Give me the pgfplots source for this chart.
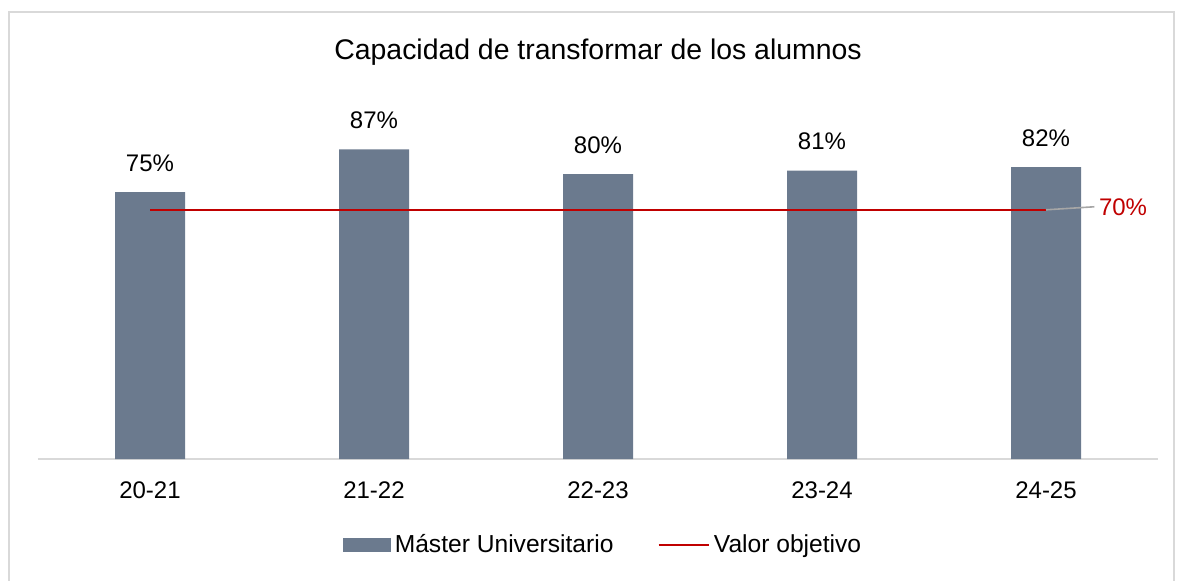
\documentclass[border=0pt]{standalone}
\usepackage{pgfplots}
\pgfplotsset{compat=1.18}
\usepackage{fontspec}
\setmainfont{Liberation Sans}
\definecolor{barcol}{HTML}{6B7A8E}
\definecolor{goalred}{HTML}{C00000}
\definecolor{framegray}{HTML}{D9D9D9}
\begin{document}
\begin{tikzpicture}
% 1 px of the reference = 0.5pt
\useasboundingbox (0,0) rectangle (591.5pt,290pt);
\draw[framegray, line width=0.8pt] (4.5pt,-10pt) rectangle (587pt,284pt);
\node[font=\fontsize{14.2}{17}\selectfont] at (299pt,264pt) {Capacidad de transformar de los alumnos};
\begin{axis}[
    at={(19pt,60.5pt)}, anchor=south west,
    scale only axis,
    width=560pt, height=178pt,
    xmin=-0.5, xmax=4.5, ymin=0, ymax=100,
    axis x line*=bottom, axis y line=none,
    x axis line style={draw=framegray, line width=0.9pt, -},
    xtick=data,
    xticklabels={20-21,21-22,22-23,23-24,24-25},
    major tick length=0pt,
    xticklabel style={anchor=center, yshift=-15.5pt, font=\fontsize{12}{14}\selectfont},
    /pgf/number format/assume math mode=true,
    legend style={at={(0.5,0)}, anchor=center, yshift=-43pt, xshift=3pt, draw=none,
        font=\fontsize{12.3}{14}\selectfont, legend columns=2,
        /tikz/every even column/.append style={column sep=20pt}},
    legend cell align=left,
    clip=false,
]
\addplot[ybar, bar width=35pt, fill=barcol, draw=none,
    nodes near coords={\pgfmathprintnumber{\pgfplotspointmeta}\%},
    every node near coord/.append style={anchor=center, yshift=14.5pt, black, font=\fontsize{12}{14}\selectfont},
    area legend,
    legend image code/.code={\fill[barcol] (0pt,-3.5pt) rectangle (24pt,3.5pt);}]
    coordinates {(0,75) (1,87) (2,80) (3,81) (4,82)};
\addlegendentry{Máster Universitario}
\addplot[goalred, line width=1.2pt, mark=none,
    legend image code/.code={\draw[goalred, line width=1.2pt] (0pt,0pt) -- (25pt,0pt);}]
    coordinates {(0,70) (4,70)};
\addlegendentry{Valor objetivo}
\addplot[gray!70, line width=0.8pt, mark=none, forget plot]
    coordinates {(4,70) (4.216,70.85)};
\node[goalred, anchor=west, inner sep=0pt, font=\fontsize{12}{14}\selectfont] at (axis cs:4.235,70.6) {70\%};
\end{axis}
\end{tikzpicture}
\end{document}
